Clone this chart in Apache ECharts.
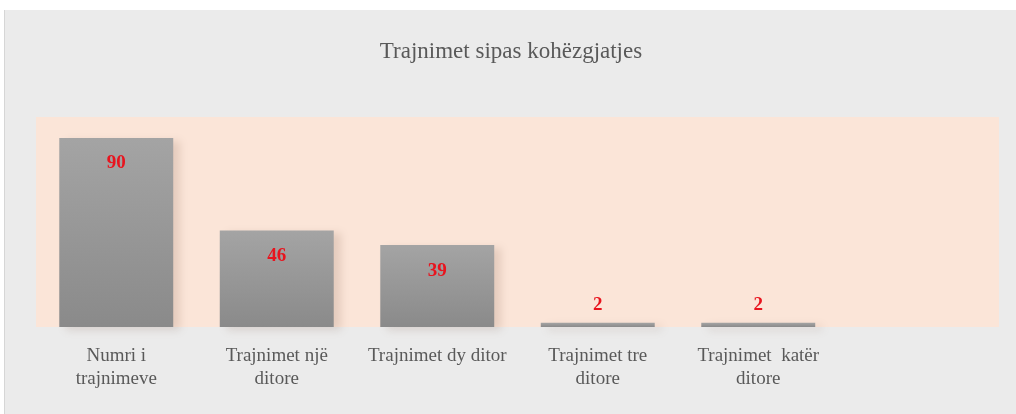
<!DOCTYPE html>
<html>
<head>
<meta charset="utf-8">
<script src="https://cdn.jsdelivr.net/npm/echarts@6/dist/echarts.min.js"></script>
<style>
  html, body { margin: 0; padding: 0; background: #ffffff; }
  #chart {
    position: absolute;
    left: 4px;
    top: 10px;
    width: 1012px;
    height: 404px;
    background: #ebebeb;
    border-left: 1px solid #d6d6d6;
  }
</style>
</head>
<body>
<div id="chart"></div>
<script>
const categories = [
  "Numri i\ntrajnimeve",
  "Trajnimet një\nditore",
  "Trajnimet dy ditor",
  "Trajnimet tre\nditore",
  "Trajnimet  katër\nditore",
  "",
];
const values = [90, 46, 39, 2, 2, null];

const chart = echarts.init(document.getElementById("chart"));

const serif = "'Liberation Serif', 'DejaVu Serif', serif";

// small bars get the label above them, like the original
const seriesData = values.map((v) => ({
  value: v,
  label: v !== null && v < 10
    ? { position: "top", distance: 8 }
    : { position: "insideTop", distance: 16 },
}));

chart.setOption({
  animation: false,
  title: {
    text: "Trajnimet sipas kohëzgjatjes",
    left: "center",
    top: 25,
    textStyle: {
      fontFamily: serif,
      fontSize: 23,
      fontWeight: "normal",
      color: "#595959",
    },
  },
  grid: {
    left: 31,
    right: 18,
    top: 107,
    bottom: 87,
    show: true,
    backgroundColor: "#fbe5d8",
    borderWidth: 0,
  },
  xAxis: {
    type: "category",
    data: categories,
    axisLine: { show: false },
    axisTick: { show: false },
    axisLabel: {
      interval: 0,
      margin: 18,
      fontFamily: serif,
      fontSize: 19,
      lineHeight: 23,
      color: "#595959",
    },
  },
  yAxis: {
    type: "value",
    min: 0,
    max: 100,
    show: false,
    splitLine: { show: false },
  },
  series: [
    {
      type: "bar",
      data: seriesData,
      barWidth: "71%",
      itemStyle: {
        color: new echarts.graphic.LinearGradient(0, 0, 0, 1, [
          { offset: 0, color: "#a4a4a4" },
          { offset: 1, color: "#8a8a8a" },
        ]),
        shadowColor: "rgba(110, 70, 50, 0.16)",
        shadowBlur: 8,
        shadowOffsetX: 7,
        shadowOffsetY: 3,
      },
      label: {
        show: true,
        fontFamily: serif,
        fontSize: 19,
        fontWeight: "bold",
        color: "#e8141e",
      },
    },
  ],
});
</script>
</body>
</html>
